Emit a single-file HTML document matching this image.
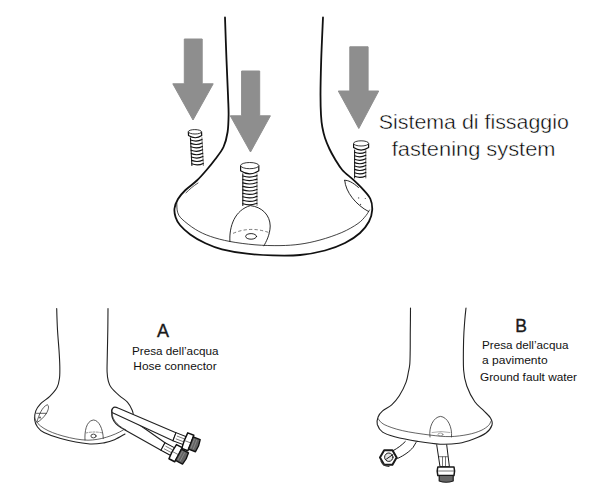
<!DOCTYPE html>
<html><head><meta charset="utf-8">
<style>
html,body{margin:0;padding:0;background:#fff;}
body{width:600px;height:495px;overflow:hidden;position:relative;}
svg{position:absolute;left:0;top:0;}
text{font-family:"Liberation Sans",sans-serif;fill:#1a1a1a;}
.thin{stroke:#fff;stroke-width:0.45px;fill:#000;}
.bold{stroke:#1a1a1a;stroke-width:0.35px;}
.sm{fill:#111;}
</style></head><body>
<svg width="600" height="495" viewBox="0 0 600 495">
<!-- arrows -->
<g fill="#8e8e8e" stroke="#8e8e8e" stroke-width="1" stroke-linejoin="round">
<path d="M184.3,39 H202.2 V83.8 H213.2 L193,120 L172.8,83.8 H184.3 Z"/>
<path d="M241.6,71 H259.7 V115.8 H270.4 L250.5,152 L230.3,115.8 H241.6 Z"/>
<path d="M349.8,46.8 H368.1 V91 H378.7 L358.8,128.5 L338.3,91 H349.8 Z"/>
</g>
<!-- top unit outline -->
<g fill="none" stroke="#111" stroke-linecap="round" stroke-linejoin="round">
<path stroke-width="1.8" d="M225.0,17.5 C225.2,24.6 226.0,47.1 226.5,60.0 C227.0,72.9 227.7,85.8 228.0,95.0 C228.3,104.2 228.7,108.8 228.6,115.0 C228.5,121.2 228.4,126.7 227.6,132.0 C226.8,137.3 225.6,142.4 223.5,147.0 C221.4,151.6 217.7,155.8 215.0,159.5 C212.3,163.2 210.4,165.5 207.4,169.0 C204.4,172.5 200.6,177.0 196.9,180.5 C193.2,184.0 188.7,186.9 185.5,190.0 C182.3,193.1 179.8,195.9 178.0,199.0 C176.2,202.1 174.9,205.5 174.5,208.5 C174.1,211.5 174.7,214.4 175.6,217.2 C176.5,220.0 177.7,222.4 180.1,225.3 C182.5,228.2 186.0,231.4 190.2,234.4 C194.4,237.4 200.1,240.8 205.4,243.3 C210.7,245.8 215.1,247.6 222.0,249.3 C228.9,251.0 238.6,252.7 247.0,253.7 C255.4,254.7 263.9,255.2 272.7,255.4 C281.5,255.6 291.3,255.8 300.0,255.0 C308.7,254.2 317.5,252.5 325.0,250.5 C332.5,248.5 339.2,245.9 345.0,243.0 C350.8,240.1 356.0,236.6 360.0,233.0 C364.0,229.4 367.0,225.3 369.0,221.5 C371.0,217.7 372.0,213.8 372.2,210.0 C372.4,206.2 371.9,202.4 370.4,199.0 C368.9,195.6 365.9,192.6 363.0,189.4 C360.1,186.2 356.6,182.9 353.2,179.7 C349.8,176.5 345.2,173.3 342.3,170.0 C339.4,166.7 337.6,163.5 335.5,160.0 C333.4,156.5 331.2,152.7 329.5,149.0 C327.8,145.3 326.2,141.7 325.0,138.0 C323.8,134.3 323.0,130.8 322.3,127.0 C321.6,123.2 321.3,120.3 321.0,115.0 C320.7,109.7 320.5,104.2 320.5,95.0 C320.5,85.8 320.8,72.9 321.2,60.0 C321.6,47.1 322.7,24.6 323.0,17.5"/>
<path stroke-width="0.8" d="M176.8,203.0 C176.9,204.5 176.7,209.5 177.6,212.2 C178.5,214.9 179.1,216.3 182.1,219.2 C185.1,222.0 190.6,226.4 195.3,229.3 C200.0,232.2 204.6,234.4 210.4,236.4 C216.2,238.4 222.6,240.1 230.0,241.5 C237.4,242.9 246.7,244.1 255.0,244.8 C263.3,245.5 272.5,245.7 280.0,245.6 C287.5,245.5 293.3,245.1 300.0,244.2 C306.7,243.3 313.0,241.9 320.0,240.0 C327.0,238.1 335.5,235.2 341.8,232.5 C348.1,229.8 354.0,226.3 358.0,223.5 C362.0,220.7 364.1,217.8 366.0,215.5 C367.9,213.2 368.9,210.9 369.5,210.0"/>
<path stroke-width="0.7" d="M186,192.8 C189.5,189.5 193,186 198,183"/>
<path stroke-width="0.9" d="M344.7,180.3 C348,180 353,182.5 358.5,187.5 M344.7,180.3 C345.5,192 356,205 368.5,211.5"/>
<g fill="#555" stroke="none"><circle cx="358.6" cy="197.9" r="0.7"/><circle cx="365.3" cy="198.5" r="0.6"/><circle cx="360.5" cy="204.5" r="0.7"/></g>
<path stroke-width="0.9" d="M229.9,241.5 C229,226 235,210 250.4,205.6 C262,207 270,215 270.2,226 C270,235 266,242 263.9,245.8"/>
<path stroke-width="0.7" stroke="#444" stroke-dasharray="2.5,3" d="M233.4,233.2 Q250.4,226 268.8,232.5"/>
<ellipse cx="251.1" cy="236.4" rx="5.5" ry="2.8" stroke-width="0.9"/>
</g>
<!-- screws -->
<g transform="translate(188.2,129.6) skewX(3) translate(-188.2,-129.6)">
<g fill="none" stroke-linecap="round">
<path d="M190.0,137.8 V165.5" stroke="#222" stroke-width="1.1"/>
<path d="M201.5,137.8 V165.5" stroke="#555" stroke-width="0.8"/>
<path d="M190.0,140.0 Q195.8,142.4 201.5,139.6" stroke="#111" stroke-width="1.15"/>
<path d="M190.0,143.4 Q195.8,145.8 201.5,143.0" stroke="#111" stroke-width="1.15"/>
<path d="M190.0,146.8 Q195.8,149.2 201.5,146.4" stroke="#111" stroke-width="1.15"/>
<path d="M190.0,150.2 Q195.8,152.6 201.5,149.8" stroke="#111" stroke-width="1.15"/>
<path d="M190.0,153.6 Q195.8,156.0 201.5,153.2" stroke="#111" stroke-width="1.15"/>
<path d="M190.0,157.0 Q195.8,159.4 201.5,156.6" stroke="#111" stroke-width="1.15"/>
<path d="M190.0,160.4 Q195.8,162.8 201.5,160.0" stroke="#111" stroke-width="1.15"/>
<path d="M190.0,163.8 Q195.8,166.2 201.5,163.4" stroke="#111" stroke-width="1.15"/>
</g>
<path d="M188.2,131.8 V135.5 Q194.8,140.0 201.4,135.5 V131.8" fill="#fff" stroke="#111" stroke-width="1.2"/>
<ellipse cx="194.8" cy="131.8" rx="6.6" ry="2.2" fill="#fff" stroke="#222" stroke-width="0.9"/>
</g>
<g transform="translate(240.6,162.5) skewX(0) translate(-240.6,-162.5)">
<g fill="none" stroke-linecap="round">
<path d="M242.8,173.8 V205.5" stroke="#222" stroke-width="1.1"/>
<path d="M257.0,173.8 V205.5" stroke="#555" stroke-width="0.8"/>
<path d="M242.8,176.0 Q249.9,178.4 257.0,175.6" stroke="#111" stroke-width="1.15"/>
<path d="M242.8,179.5 Q249.9,181.9 257.0,179.1" stroke="#111" stroke-width="1.15"/>
<path d="M242.8,182.9 Q249.9,185.3 257.0,182.5" stroke="#111" stroke-width="1.15"/>
<path d="M242.8,186.4 Q249.9,188.8 257.0,186.0" stroke="#111" stroke-width="1.15"/>
<path d="M242.8,189.9 Q249.9,192.3 257.0,189.5" stroke="#111" stroke-width="1.15"/>
<path d="M242.8,193.3 Q249.9,195.7 257.0,192.9" stroke="#111" stroke-width="1.15"/>
<path d="M242.8,196.8 Q249.9,199.2 257.0,196.4" stroke="#111" stroke-width="1.15"/>
<path d="M242.8,200.3 Q249.9,202.7 257.0,199.9" stroke="#111" stroke-width="1.15"/>
<path d="M242.8,203.7 Q249.9,206.1 257.0,203.3" stroke="#111" stroke-width="1.15"/>
</g>
<path d="M240.6,165.6 V170.7 Q249.7,176.9 258.8,170.7 V165.6" fill="#fff" stroke="#111" stroke-width="1.2"/>
<ellipse cx="249.7" cy="165.6" rx="9.1" ry="3.1" fill="#fff" stroke="#222" stroke-width="0.9"/>
</g>
<g transform="translate(353.6,140.8) skewX(0) translate(-353.6,-140.8)">
<g fill="none" stroke-linecap="round">
<path d="M354.6,150.1 V178.0" stroke="#222" stroke-width="1.1"/>
<path d="M365.8,150.1 V178.0" stroke="#555" stroke-width="0.8"/>
<path d="M354.6,152.3 Q360.2,154.7 365.8,151.9" stroke="#111" stroke-width="1.15"/>
<path d="M354.6,155.7 Q360.2,158.1 365.8,155.3" stroke="#111" stroke-width="1.15"/>
<path d="M354.6,159.2 Q360.2,161.6 365.8,158.8" stroke="#111" stroke-width="1.15"/>
<path d="M354.6,162.6 Q360.2,165.0 365.8,162.2" stroke="#111" stroke-width="1.15"/>
<path d="M354.6,166.0 Q360.2,168.4 365.8,165.6" stroke="#111" stroke-width="1.15"/>
<path d="M354.6,169.4 Q360.2,171.8 365.8,169.0" stroke="#111" stroke-width="1.15"/>
<path d="M354.6,172.8 Q360.2,175.2 365.8,172.4" stroke="#111" stroke-width="1.15"/>
<path d="M354.6,176.3 Q360.2,178.7 365.8,175.9" stroke="#111" stroke-width="1.15"/>
</g>
<path d="M353.6,143.4 V147.6 Q361.1,152.7 368.6,147.6 V143.4" fill="#fff" stroke="#111" stroke-width="1.2"/>
<ellipse cx="361.1" cy="143.4" rx="7.5" ry="2.6" fill="#fff" stroke="#222" stroke-width="0.9"/>
</g>
<!-- top text -->
<text class="thin" x="378.8" y="128.7" font-size="21" textLength="190" lengthAdjust="spacingAndGlyphs">Sistema di fissaggio</text>
<text class="thin" x="391.7" y="156" font-size="21" textLength="163.8" lengthAdjust="spacingAndGlyphs">fastening system</text>

<!-- unit A -->
<g fill="none" stroke="#222" stroke-linecap="round" stroke-linejoin="round">
<path stroke-width="1.1" d="M56.7,308.5 C56.8,312.1 57.1,323.1 57.5,330.0 C57.9,336.9 58.6,344.0 59.0,350.0 C59.4,356.0 59.7,361.3 59.8,366.0 C59.9,370.7 60.0,374.4 59.5,378.0 C59.0,381.6 58.7,384.2 57.1,387.3 C55.5,390.4 52.5,393.7 49.8,396.4 C47.1,399.1 43.0,401.2 40.7,403.6 C38.4,406.0 36.8,408.2 35.8,410.9 C34.8,413.6 34.4,417.3 34.7,420.0 C35.0,422.7 36.0,424.9 37.5,427.0 C39.0,429.1 40.1,430.6 44.0,432.5 C47.9,434.4 53.4,436.6 60.7,438.5 C68.0,440.4 80.6,443.1 88.0,443.8 C95.4,444.5 100.5,443.3 105.0,442.6 C109.5,441.9 111.7,440.9 115.0,439.5 C118.3,438.1 123.3,434.9 125.0,434.0"/>
<path stroke-width="1.1" d="M108.0,308.5 C108.0,312.1 107.9,322.2 107.8,330.0 C107.7,337.8 107.4,348.0 107.3,355.0 C107.2,362.0 106.9,367.7 107.1,372.0 C107.3,376.3 107.6,378.4 108.3,381.0 C109.0,383.6 109.4,385.1 111.2,387.5 C113.0,389.9 116.6,393.2 119.3,395.6 C122.0,398.0 125.2,399.7 127.4,402.1 C129.6,404.5 131.2,407.9 132.2,410.2 C133.2,412.5 133.3,415.0 133.5,416.0"/>
<path stroke-width="0.7" d="M34.5,418 C37,426 48,432 63,436 C72,438.5 80,440 88,440.2 C100,440 113,436 123.3,430"/>
<path stroke-width="0.8" stroke="#333" d="M37,421.5 C39,415 42,407 47.3,404.7 C49.5,406 48.5,410 46,414 C44,417 40,421 37,422.5 M36.5,413.3 L46.5,413.3"/>
<circle cx="40" cy="417.5" r="0.9" fill="#444" stroke="none"/>
<path stroke-width="0.8" stroke="#333" d="M85,440 C84.5,432 86,421 93.3,420 C99,420 103,429 103.3,438.5"/>
<path stroke-width="0.6" stroke="#555" stroke-dasharray="2,1.5" d="M86,433 Q94,431 103,433"/>
<ellipse cx="93.5" cy="436" rx="2.6" ry="1.9" stroke-width="0.9" stroke="#333"/>
</g>
<!-- hoses A -->
<g stroke="#222" stroke-linecap="round" stroke-linejoin="round">
<path fill="#fff" stroke-width="1.15" d="M112.5,410 C110,418 115,425 125,430 L161,450.3 L165,442.7 L119,410.5 Z"/>
<path fill="#fff" stroke-width="1.15" d="M113,408 C114,406.5 116,407 118,408 L176,432.7 L173,440.7 L112,412.5 C111,410.5 112,409 113,408 Z"/>
<path fill="none" stroke-width="0.7" d="M112,410 C111,418 116,425 126,430"/>
</g>
<!-- fittings A -->
<g stroke="#111" stroke-linejoin="round">
<g transform="translate(174.5,436.7) rotate(21)">
<path d="M0,-4.3 H11 V4.3 H0 Z" fill="#fff" stroke-width="1"/>
<path d="M2,-1.5 H10 M2,1.5 H10" stroke-width="0.5" fill="none"/>
<path d="M11,-8.3 Q10,0 11,8.3 H17.5 Q18.5,0 17.5,-8.3 Z" fill="#fff" stroke-width="1.5"/>
<path d="M11,0 H17.5" stroke-width="0.5"/>
<path d="M17.5,-6.5 H25 Q26.5,0 25,6.5 H17.5 Z" fill="#626262" stroke-width="1.4"/>
<path d="M19.5,-5 V5 M22,-5 V5" stroke="#9a9a9a" stroke-width="0.6"/>
</g>
<g transform="translate(163,446.5) rotate(28)">
<path d="M0,-4.3 H11 V4.3 H0 Z" fill="#fff" stroke-width="1"/>
<path d="M2,-1.5 H10 M2,1.5 H10" stroke-width="0.5" fill="none"/>
<path d="M11,-8 Q10,0 11,8 H17.5 Q18.5,0 17.5,-8 Z" fill="#fff" stroke-width="1.5"/>
<path d="M11,0 H17.5" stroke-width="0.5"/>
<path d="M17.5,-6.3 H25.5 Q27,0 25.5,6.3 H17.5 Z" fill="#626262" stroke-width="1.4"/>
<path d="M19.5,-5 V5 M22,-5 V5" stroke="#9a9a9a" stroke-width="0.6"/>
</g>
</g>
<!-- pipes B -->
<g stroke="#1a1a1a" stroke-linejoin="round" stroke-linecap="round">
<path fill="#fff" stroke-width="1" d="M405.3,441.5 C402,445 398,448 392.5,451 L397.5,458.5 C405,455 410,451 413,447.5 C414,446 415,444 416,442.5"/>
<polygon points="388.3,449.2 395.5,453.3 395.5,461.7 388.3,465.8 381.1,461.7 381.1,453.3" fill="#fff" stroke-width="2" transform="rotate(30 388.3 457.5)"/>
<path d="M381,461 Q383,466 389,466.5" fill="none" stroke="#333" stroke-width="1.2"/>
<circle cx="388.8" cy="457.2" r="4.2" fill="#e4e4e4" stroke-width="1"/>
<path d="M386.5,459 L393,454.5" stroke-width="1"/>
<path fill="#fff" stroke-width="1" d="M436.7,444.8 L440,466.7 H449.4 L446.7,444.8"/>
<path d="M439,456.7 H447.5 M442.5,457 V466 M445.5,457 V466" stroke-width="0.6"/>
<path fill="#fff" stroke-width="1.5" d="M437.8,467 Q436.5,471 437.8,475.5 H454 Q455.2,471 454,467 Z"/>
<path d="M438,471 H454" stroke-width="0.6"/>
<path fill="#666" stroke-width="1.2" d="M439.2,475.5 V481 Q446,483.5 453.2,481 V475.5 Z"/>
</g>

<text class="bold" x="157" y="337.4" font-size="18">A</text>
<text class="sm" x="132" y="355.3" font-size="11.5" textLength="86.5" lengthAdjust="spacingAndGlyphs">Presa dell’acqua</text>
<text class="sm" x="133.3" y="369.6" font-size="11.5" textLength="83.4" lengthAdjust="spacingAndGlyphs">Hose connector</text>

<!-- unit B -->
<g fill="none" stroke="#222" stroke-linecap="round" stroke-linejoin="round">
<path stroke-width="1.1" d="M410.5,308.0 C410.5,311.7 410.4,323.0 410.3,330.0 C410.2,337.0 410.3,344.3 410.2,350.0 C410.1,355.7 410.1,360.3 409.8,364.0 C409.5,367.7 409.0,369.0 408.4,372.0 C407.8,375.0 407.6,378.1 406.1,382.1 C404.6,386.1 401.7,392.0 399.3,395.8 C396.9,399.6 394.5,402.3 391.7,404.8 C388.9,407.3 384.9,408.9 382.6,410.9 C380.3,412.9 379.0,414.7 378.1,417.0 C377.2,419.3 376.6,422.0 377.3,424.5 C378.1,427.0 379.7,430.1 382.6,432.1 C385.5,434.1 388.9,435.1 394.7,436.7 C400.5,438.2 409.9,440.1 417.5,441.4 C425.1,442.6 433.1,443.9 440.0,444.2 C446.9,444.5 453.5,444.0 459.0,443.2 C464.5,442.4 468.5,440.9 473.0,439.2 C477.5,437.5 482.8,435.4 486.0,433.0 C489.2,430.6 491.2,427.5 492.0,425.0 C492.8,422.5 491.9,420.4 490.5,418.0 C489.1,415.6 486.5,413.6 483.9,410.9 C481.3,408.2 477.6,405.9 474.8,401.8 C472.0,397.7 468.7,391.3 466.8,386.0 C464.9,380.7 464.1,377.7 463.6,370.0 C463.1,362.3 463.4,348.3 463.6,340.0 C463.8,331.7 464.4,325.3 464.8,320.0 C465.2,314.7 465.8,310.0 466.0,308.0"/>
<path stroke-width="0.7" d="M378.0,418.5 C379.0,419.5 380.1,422.5 384.1,424.5 C388.2,426.5 394.7,428.9 402.3,430.6 C409.9,432.4 421.7,434.0 429.6,435.0 C437.6,436.0 443.6,436.7 450.0,436.6 C456.4,436.5 462.8,435.5 468.0,434.5 C473.2,433.5 477.6,432.0 481.0,430.5 C484.4,429.0 486.8,427.1 488.5,425.5 C490.2,423.9 490.6,421.8 491.0,421.0"/>
<path stroke-width="0.8" stroke="#333" d="M430,437 C428.5,427 433.5,417 440.5,416.4 C447.5,417 452.5,427 451.5,437"/>
<path stroke-width="0.6" stroke="#777" d="M432,432.5 Q441,430.5 450,432.5"/>
<ellipse cx="440.5" cy="434.5" rx="2.5" ry="1.5" stroke-width="0.6" stroke="#666"/>
</g>

<text class="bold" x="515.2" y="331.6" font-size="17.5">B</text>
<text class="sm" x="482" y="349" font-size="11.5" textLength="86.4" lengthAdjust="spacingAndGlyphs">Presa dell’acqua</text>
<text class="sm" x="482" y="364" font-size="11.5" textLength="65.6" lengthAdjust="spacingAndGlyphs">a pavimento</text>
<text class="sm" x="480" y="381" font-size="11.5" textLength="97" lengthAdjust="spacingAndGlyphs">Ground fault water</text>
</svg>
</body></html>
